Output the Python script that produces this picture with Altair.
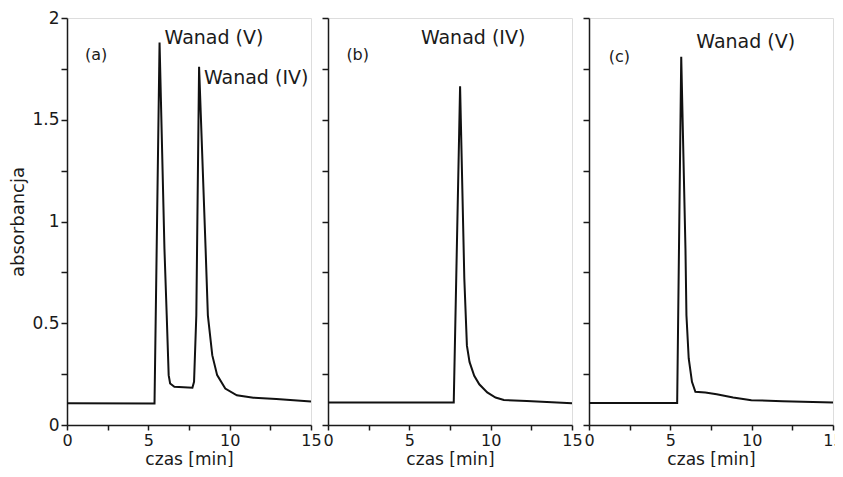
import altair as alt
import pandas as pd

# Panel (a): V(V) + V(IV)
a_t = [0, 5.38, 5.69, 5.99, 6.13, 6.25, 6.34, 6.6, 7.71, 7.81, 7.95, 8.12, 8.52, 8.66, 8.93, 9.23,
       9.73, 10.44, 11.46, 12.87, 15.0]
a_y = [0.107, 0.106, 1.88, 0.867, 0.539, 0.245, 0.204, 0.188, 0.183, 0.212, 0.539, 1.76, 0.867, 0.539,
       0.343, 0.245, 0.179, 0.146, 0.134, 0.128, 0.115]
# Panel (b): V(IV)
b_t = [0, 7.73, 8.12, 8.38, 8.54, 8.7, 8.99, 9.3, 9.79, 10.3, 10.81, 12.22, 15.0]
b_y = [0.111, 0.111, 1.664, 0.72, 0.39, 0.31, 0.242, 0.20, 0.160, 0.135, 0.123, 0.118, 0.107]
# Panel (c): V(V)
c_t = [0, 5.42, 5.67, 5.93, 5.99, 6.13, 6.33, 6.54, 7.15, 7.85, 8.86, 9.98, 11.9, 15.0]
c_y = [0.108, 0.108, 1.81, 0.867, 0.539, 0.327, 0.212, 0.163, 0.160, 0.151, 0.135, 0.122, 0.117, 0.111]

panel_tags = ["(a)", "(b)", "(c)"]
tag_x = [1.1, 1.13, 1.21]
tag_y = [1.82, 1.82, 1.81]
peak_labels = [["Wanad (V)", "Wanad (IV)"], ["Wanad (IV)"], ["Wanad (V)"]]
peak_lx = [[6.0, 8.42], [5.71], [6.6]]
peak_ly = [[1.90, 1.705], [1.90], [1.88]]

x_ticks = [0, 2.5, 5, 7.5, 10, 12.5, 15]
y_ticks = [0, 0.25, 0.5, 0.75, 1.0, 1.25, 1.5, 1.75, 2.0]

FONT = "DejaVu Sans"
INK = "#1a1a1a"
W, H = 244, 407


def panel(ts, ys, i, first):
    df = pd.DataFrame({"t": ts, "y": ys})
    yaxis = alt.Axis(
        values=y_ticks,
        labelExpr="datum.value % 0.5 == 0 ? format(datum.value, '~g') : ''",
        title="absorbancja" if first else None,
        labels=first,
        tickSize=6,
        labelFontSize=17,
        titleFontSize=18,
        titleFontWeight="normal",
        titlePadding=4,
        labelPadding=2,
        grid=False,
        domainColor=INK,
        tickColor=INK,
        labelColor=INK,
        titleColor=INK,
        domainWidth=1.5,
        tickWidth=1.5,
        labelFont=FONT,
        titleFont=FONT,
    )
    xaxis = alt.Axis(
        values=x_ticks,
        labelExpr="datum.value % 5 == 0 ? format(datum.value, '~g') : ''",
        title="czas [min]",
        tickSize=5,
        labelFontSize=16,
        titleFontSize=17,
        titleFontWeight="normal",
        titlePadding=3,
        labelPadding=2,
        labelFlush=False,
        labelOverlap=False,
        grid=False,
        domainColor=INK,
        tickColor=INK,
        labelColor=INK,
        titleColor=INK,
        domainWidth=1.5,
        tickWidth=1.5,
        labelFont=FONT,
        titleFont=FONT,
    )
    line = alt.Chart(df).mark_line(color="#111111", strokeWidth=2).encode(
        x=alt.X("t:Q", scale=alt.Scale(domain=[0, 15], nice=False), axis=xaxis),
        y=alt.Y("y:Q", scale=alt.Scale(domain=[0, 2], nice=False), axis=yaxis),
    )
    tdf = pd.DataFrame({"x": [tag_x[i]], "y": [tag_y[i]], "s": [panel_tags[i]]})
    tag = alt.Chart(tdf).mark_text(align="left", baseline="middle", fontSize=16, font=FONT, color=INK).encode(
        x="x:Q", y="y:Q", text="s:N"
    )
    ldf = pd.DataFrame({"x": peak_lx[i], "y": peak_ly[i], "s": peak_labels[i]})
    lab = alt.Chart(ldf).mark_text(align="left", baseline="middle", fontSize=19, font=FONT, color=INK).encode(
        x="x:Q", y="y:Q", text="s:N"
    )
    return alt.layer(line, tag, lab).properties(width=W, height=H)


chart = alt.hconcat(
    panel(a_t, a_y, 0, True),
    panel(b_t, b_y, 1, False),
    panel(c_t, c_y, 2, False),
    spacing=17,
    bounds="flush",
).properties(padding={"left": 1, "top": 0, "right": -9, "bottom": -1}).configure_view(
    stroke=INK, strokeWidth=1.5
).configure(background="white")

chart.save("out.html", embed_options={"renderer": "svg", "actions": False})
